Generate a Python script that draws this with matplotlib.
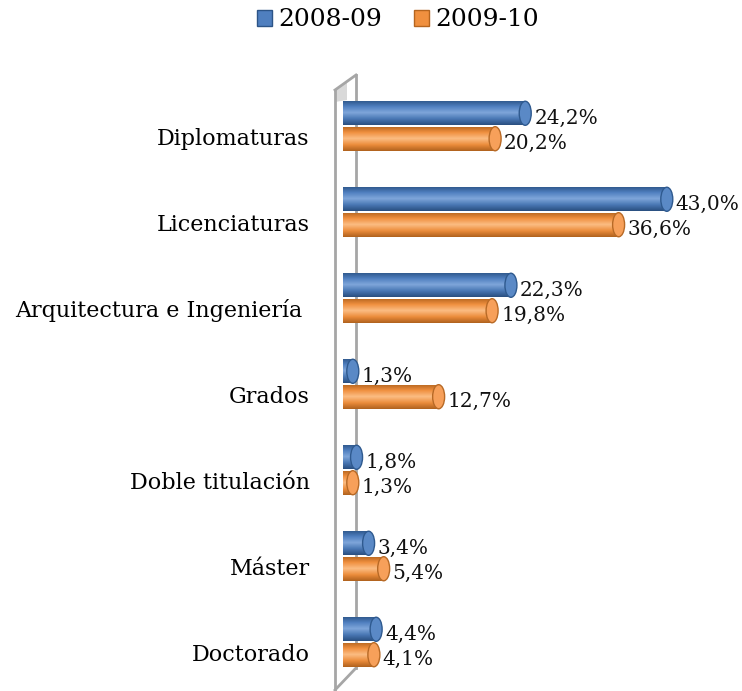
import numpy as np
import matplotlib
matplotlib.use("Agg")
import matplotlib.pyplot as plt
from matplotlib.patches import Ellipse, Patch, Polygon
from matplotlib.lines import Line2D
from matplotlib.colors import LinearSegmentedColormap

# data
categories = ["Diplomaturas", "Licenciaturas", "Arquitectura e Ingeniería ",
              "Grados", "Doble titulación", "Máster", "Doctorado"]
v_0809 = [24.2, 43.0, 22.3, 1.3, 1.8, 3.4, 4.4]
v_0910 = [20.2, 36.6, 19.8, 12.7, 1.3, 5.4, 4.1]
series = ["2008-09", "2009-10"]

W, H = 742, 691
plt.rcParams['font.family'] = ['DejaVu Serif']
fig = plt.figure(figsize=(W / 100, H / 100), dpi=100)

# axes placed in pixel terms
px_per_unit = 7.53
ax_left, ax_top, ax_bot = 343, 83, 685
ax = fig.add_axes([ax_left / W, 1 - ax_bot / H, (W - ax_left) / W, (ax_bot - ax_top) / H])
ax.set_facecolor("none")
for s in ax.spines.values():
    s.set_visible(False)

y = np.arange(len(categories))
bh = 0.28
off = 0.148

blue_cm = LinearSegmentedColormap.from_list("b", ["#2c5487", "#4f7fbf", "#7fa6da", "#4a78b5", "#2a4f80"])
orng_cm = LinearSegmentedColormap.from_list("o", ["#b5651f", "#f0903f", "#fbbd84", "#ec8d3c", "#b0621e"])
cap_col = {"b": ("#5a89c6", "#2f5a8f"), "o": ("#f7a05a", "#b86a26")}

bars1 = ax.barh(y - off, v_0809, height=bh, color="none", zorder=2)
bars2 = ax.barh(y + off, v_0910, height=bh, color="none", zorder=2)

grad = np.linspace(0, 1, 64).reshape(-1, 1)
cap_w = 12 / px_per_unit
for bars, cm, key in [(bars1, blue_cm, "b"), (bars2, orng_cm, "o")]:
    for p in bars:
        x0, y0 = p.get_x(), p.get_y()
        w, h = p.get_width(), p.get_height()
        im = ax.imshow(grad, extent=[x0 - cap_w / 2, x0 + w, y0 + h, y0], aspect="auto",
                       cmap=cm, zorder=2)
        body = Polygon([(x0, y0), (x0 + w, y0), (x0 + w, y0 + h), (x0, y0 + h)],
                       closed=True, transform=ax.transData)
        im.set_clip_path(body)
        fc, ec = cap_col[key]
        ax.add_patch(Ellipse((x0 + w, y0 + h / 2), cap_w, h, facecolor=fc,
                             edgecolor=ec, linewidth=1.0, zorder=3))

# value labels
for bars, vals in [(bars1, v_0809), (bars2, v_0910)]:
    for p, v in zip(bars, vals):
        ax.annotate(f"{v:.1f}%".replace(".", ","),
                    (p.get_width(), p.get_y() + p.get_height() / 2),
                    xytext=(9, -5), textcoords="offset pixels",
                    ha="left", va="center", fontsize=14.5, color="#111111", zorder=4)

ax.set_xlim(0, (W - ax_left) / px_per_unit)
ax.set_ylim(len(categories) - 0.5, -0.5)
ax.set_xticks([])
ax.set_yticks(y + 0.12)
ax.set_yticklabels(categories, fontsize=16)
ax.tick_params(axis="y", length=0, pad=24)

# the 3D side wall, in pixel coordinates
def fx(px):
    return np.array(px) / W

def fy(py):
    return 1 - np.array(py) / H

ax.add_patch(Polygon(np.column_stack([fx([335, 347, 347, 335]), fy([90, 82, 100, 102])]),
                     closed=True, facecolor="#d9d9d9", edgecolor="none",
                     transform=fig.transFigure, zorder=0.6, clip_on=False))
for xs, ys in [([335, 335], [90, 690]), ([335, 356], [90, 75]),
               ([356, 356], [75, 668]), ([356, 335], [668, 690])]:
    ax.add_line(Line2D(fx(xs), fy(ys), color="#a6a6a6", linewidth=2.0,
                       transform=fig.transFigure, clip_on=False, zorder=0.7))

# legend
handles = [Patch(facecolor="#4f7fbf", edgecolor="#2c5487", label=series[0]),
           Patch(facecolor="#f0903f", edgecolor="#b5651f", label=series[1])]
fig.legend(handles=handles, loc="center", bbox_to_anchor=(398 / W, 1 - 20 / H),
           ncol=2, frameon=False, fontsize=18, handlelength=0.6, handleheight=0.6,
           handletextpad=0.25, columnspacing=1.3)

fig.savefig("out.png", dpi=100)
